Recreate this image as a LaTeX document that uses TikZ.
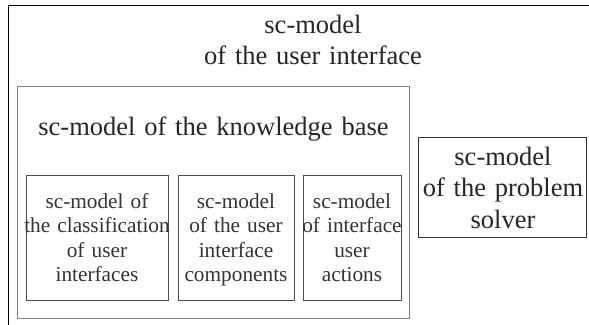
\documentclass[tikz,border=0pt]{standalone}
\usepackage{fontspec}
\setmainfont{Liberation Serif}
\begin{document}
\begin{tikzpicture}[x=1pt,y=-1pt,
  bigtxt/.style={font=\fontsize{26.5}{31}\selectfont, text=black!85, align=center, text width=420pt, inner sep=0pt, anchor=base},
  psbig/.style={font=\fontsize{26.5}{31.5}\selectfont, text=black!85, align=center, text width=200pt, inner sep=0pt, anchor=base},
  smalltxt/.style={font=\fontsize{21.3}{24.5}\selectfont, text=black!80, align=center, text width=180pt, inner sep=0pt, anchor=base},
  outerbox/.style={draw=black, line width=1.4pt, inner sep=0pt, anchor=north west},
  kbbox/.style={draw=black!50, line width=1pt, inner sep=0pt, anchor=north west},
  innerbox/.style={draw=black!70, line width=1pt, inner sep=0pt, anchor=north west},
  psbox/.style={draw=black!80, line width=1pt, inner sep=0pt, anchor=north west}]
\clip (0,0) rectangle (589,324);
\useasboundingbox (0,0) rectangle (589,324);
% outer box (user interface), extends beyond the right and bottom edges
\node[outerbox, minimum width=590pt, minimum height=330pt] (ui) at (8,5) {};
\node[bigtxt] (uit) at (313,33) {sc-model\\of the user interface};
% knowledge base
\node[kbbox, minimum width=392pt, minimum height=232pt] (kb) at (17,86) {};
\node[bigtxt] (kbt) at (213.5,135) {sc-model of the knowledge base};
% inner boxes
\node[innerbox, minimum width=142pt, minimum height=125pt] (b1) at (26,175) {};
\node[innerbox, minimum width=116pt, minimum height=125pt] (b2) at (178,175) {};
\node[innerbox, minimum width=98pt, minimum height=125pt] (b3) at (303,175) {};
\node[smalltxt] (t1) at (97,208) {sc-model of\\the classification\\of user\\interfaces};
\node[smalltxt] (t2) at (236,208) {sc-model\\of the user\\interface\\components};
\node[smalltxt] (t3) at (352,208) {sc-model\\of interface\\user\\actions};
% problem solver
\node[psbox, minimum width=168pt, minimum height=100pt] (ps) at (418,137) {};
\node[psbig] (pst) at (503,165) {sc-model\\of the problem\\solver};
\end{tikzpicture}
\end{document}
